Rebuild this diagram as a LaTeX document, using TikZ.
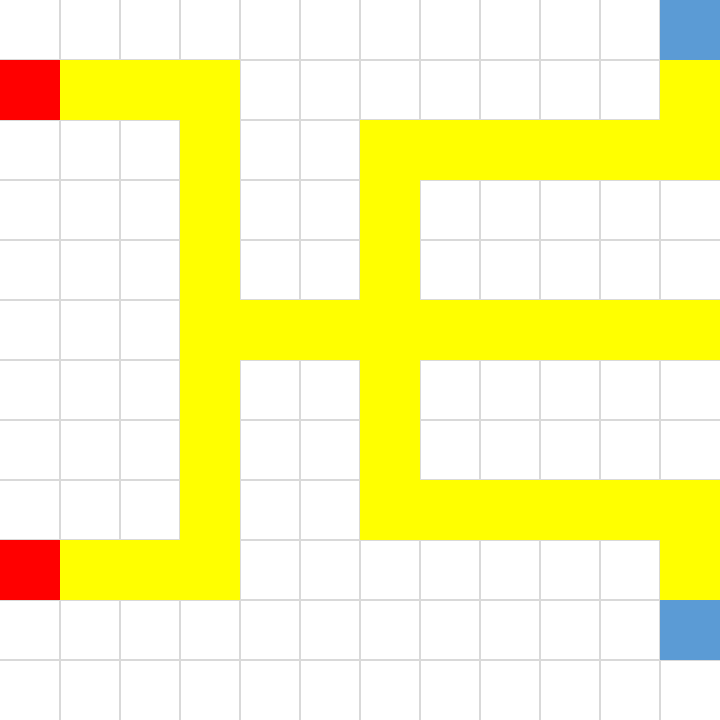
\documentclass[tikz,border=0pt]{standalone}
\definecolor{gridgray}{HTML}{D9D9D9}
\definecolor{pathyellow}{HTML}{FFFF00}
\definecolor{startred}{HTML}{FF0000}
\definecolor{endblue}{HTML}{5B9BD5}
\begin{document}
\begin{tikzpicture}[x=1cm,y=1cm,
  gridline/.style={draw=gridgray,line width=0.5pt},
  ycell/.style={fill=pathyellow},
  rcell/.style={fill=startred},
  bcell/.style={fill=endblue}]
\useasboundingbox (0,0) rectangle (12,12);
\fill[white] (0,0) rectangle (12,12);
\foreach \i in {1,...,11} {
  \draw[gridline] (\i,0) -- (\i,12);
  \draw[gridline] (0,\i) -- (12,\i);
}
% yellow cells: (col,row) with row from top
\foreach \c/\r in {1/1,2/1,3/1,11/1,
  3/2,6/2,7/2,8/2,9/2,10/2,11/2,
  3/3,6/3,3/4,6/4,
  3/5,4/5,5/5,6/5,7/5,8/5,9/5,10/5,11/5,
  3/6,6/6,3/7,6/7,
  3/8,6/8,7/8,8/8,9/8,10/8,11/8,
  1/9,2/9,3/9,11/9} {
  \path[ycell] (\c,11-\r) rectangle ++(1,1);
}
\foreach \c/\r in {0/1,0/9} {
  \path[rcell] (\c,11-\r) rectangle ++(1,1);
}
\foreach \c/\r in {11/0,11/10} {
  \path[bcell] (\c,11-\r) rectangle ++(1,1);
}
\end{tikzpicture}
\end{document}
